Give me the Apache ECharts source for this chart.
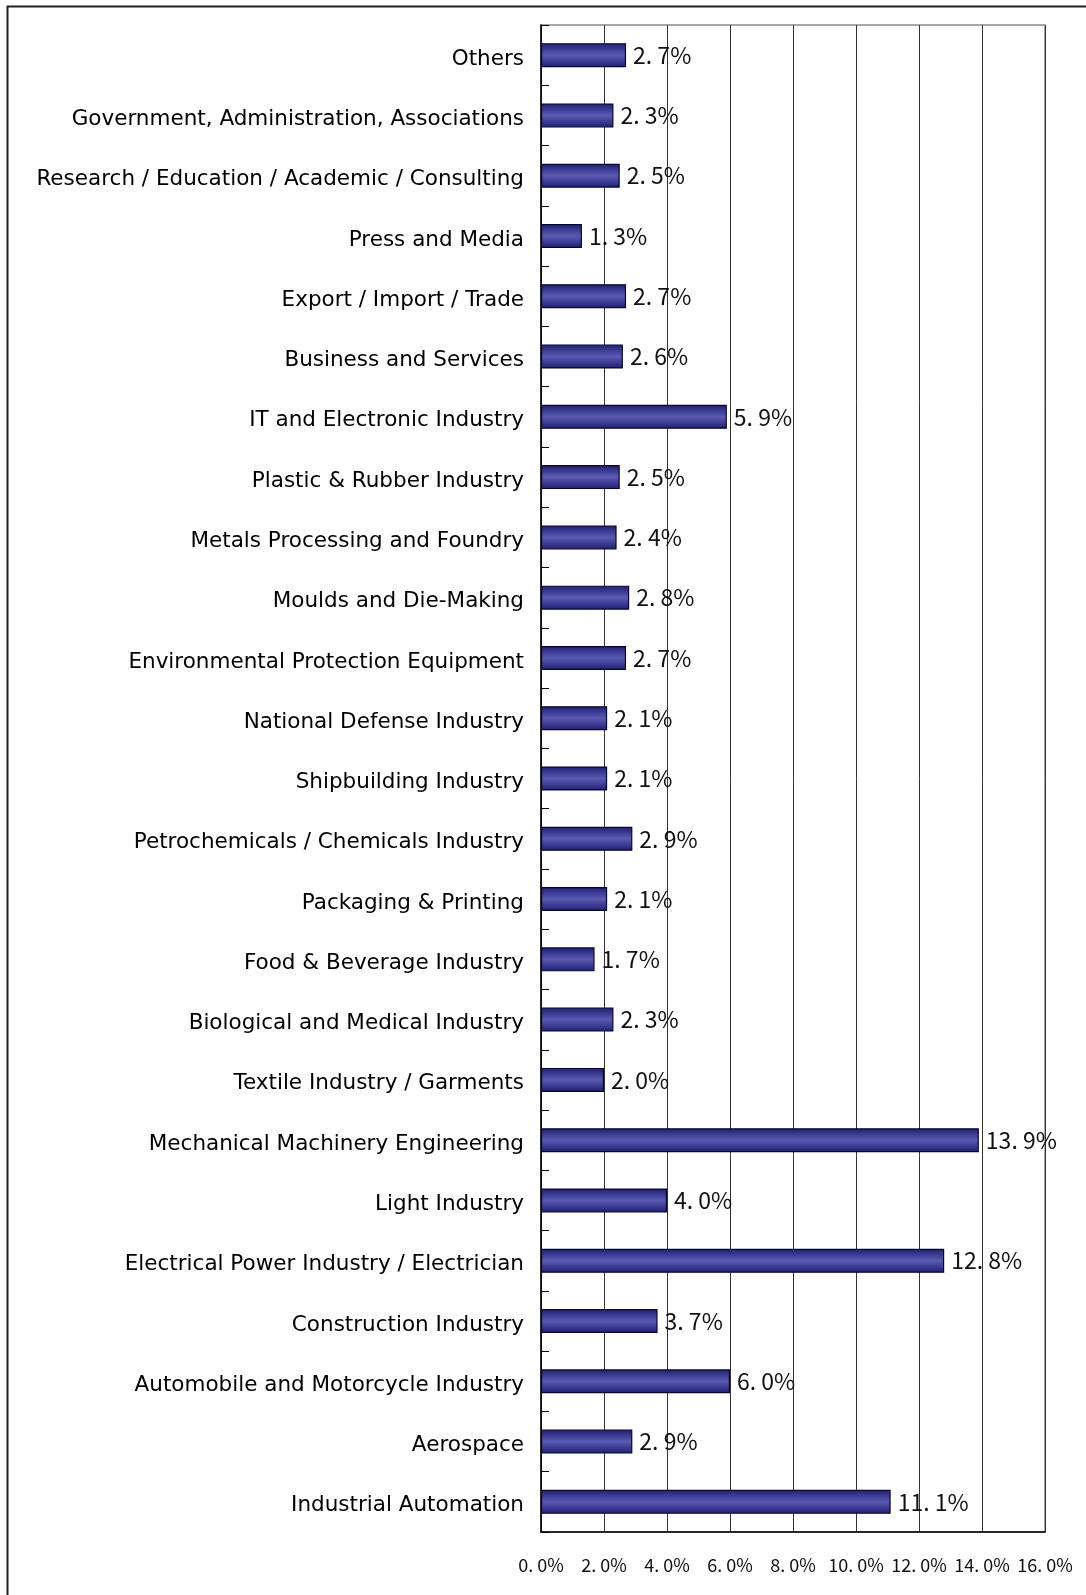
<!DOCTYPE html>
<html>
<head>
<meta charset="utf-8">
<script src="https://cdn.jsdelivr.net/npm/echarts@6/dist/echarts.min.js"></script>
<style>
  html, body { margin: 0; padding: 0; background: #fff; }
  #chart { width: 1086px; height: 1595px; }
</style>
</head>
<body>
<div id="chart"></div>
<script>
// categories listed bottom -> top (echarts draws first category at bottom)
const industries = [
  'Industrial Automation',
  'Aerospace',
  'Automobile and Motorcycle Industry',
  'Construction Industry',
  'Electrical Power Industry / Electrician',
  'Light Industry',
  'Mechanical Machinery Engineering',
  'Textile Industry / Garments',
  'Biological and Medical Industry',
  'Food & Beverage Industry',
  'Packaging & Printing',
  'Petrochemicals / Chemicals Industry',
  'Shipbuilding Industry',
  'National Defense Industry',
  'Environmental Protection Equipment',
  'Moulds and Die-Making',
  'Metals Processing and Foundry',
  'Plastic & Rubber Industry',
  'IT and Electronic Industry',
  'Business and Services',
  'Export / Import / Trade',
  'Press and Media',
  'Research / Education / Academic / Consulting',
  'Government, Administration, Associations',
  'Others'
];
const shares = [
  11.1, 2.9, 6.0, 3.7, 12.8, 4.0, 13.9, 2.0, 2.3, 1.7, 2.1, 2.9, 2.1,
  2.1, 2.7, 2.8, 2.4, 2.5, 5.9, 2.6, 2.7, 1.3, 2.5, 2.3, 2.7
];

const pct = (v) => v.toFixed(1).replace('.', '. ') + '%';

const chart = echarts.init(document.getElementById('chart'));

const option = {
  animation: false,
  backgroundColor: '#fff',
  graphic: [
    {
      // outer frame (left + top edge)
      type: 'polyline',
      silent: true,
      shape: { points: [[7.5, 1595], [7.5, 6.5], [1086, 6.5]] },
      style: { stroke: '#222', lineWidth: 2, fill: null }
    }
  ],
  grid: {
    left: 541,
    right: 41,
    top: 25,
    bottom: 63,
    show: true,
    borderColor: '#8a8a8a',
    borderWidth: 1.5
  },
  xAxis: {
    type: 'value',
    min: 0,
    max: 16,
    interval: 2,
    axisLine: { show: true, lineStyle: { color: '#000', width: 1.5 } },
    axisTick: { show: false },
    splitLine: { show: true, lineStyle: { color: '#333', width: 1 } },
    axisLabel: {
      margin: 24,
      color: '#111',
      fontFamily: 'Noto Sans CJK JP',
      fontSize: 18,
      formatter: (v) => pct(v)
    }
  },
  yAxis: {
    type: 'category',
    data: industries,
    axisLine: { show: true, lineStyle: { color: '#000', width: 1.5 } },
    axisTick: { show: true, inside: true, length: 8, lineStyle: { color: '#000' } },
    splitLine: { show: false },
    axisLabel: {
      margin: 17,
      interval: 0,
      formatter: (v) => '{c|' + v + '}',
      rich: {
        c: {
          color: '#000',
          fontFamily: 'DejaVu Sans',
          fontSize: 21.5,
          padding: [8, 0, 0, 0]
        }
      }
    }
  },
  series: [
    {
      type: 'bar',
      data: shares,
      barWidth: 24,
      itemStyle: {
        color: new echarts.graphic.LinearGradient(0, 0, 0, 1, [
          { offset: 0, color: '#1e1e72' },
          { offset: 0.5, color: '#5a5ab2' },
          { offset: 1, color: '#1e1e72' }
        ]),
        borderColor: '#08082e',
        borderWidth: 1.2
      },
      label: {
        show: true,
        position: 'right',
        distance: 7,
        color: '#111',
        fontFamily: 'Noto Sans CJK JP',
        fontSize: 23,
        formatter: (p) => pct(p.value)
      }
    }
  ]
};

chart.setOption(option);
</script>
</body>
</html>
